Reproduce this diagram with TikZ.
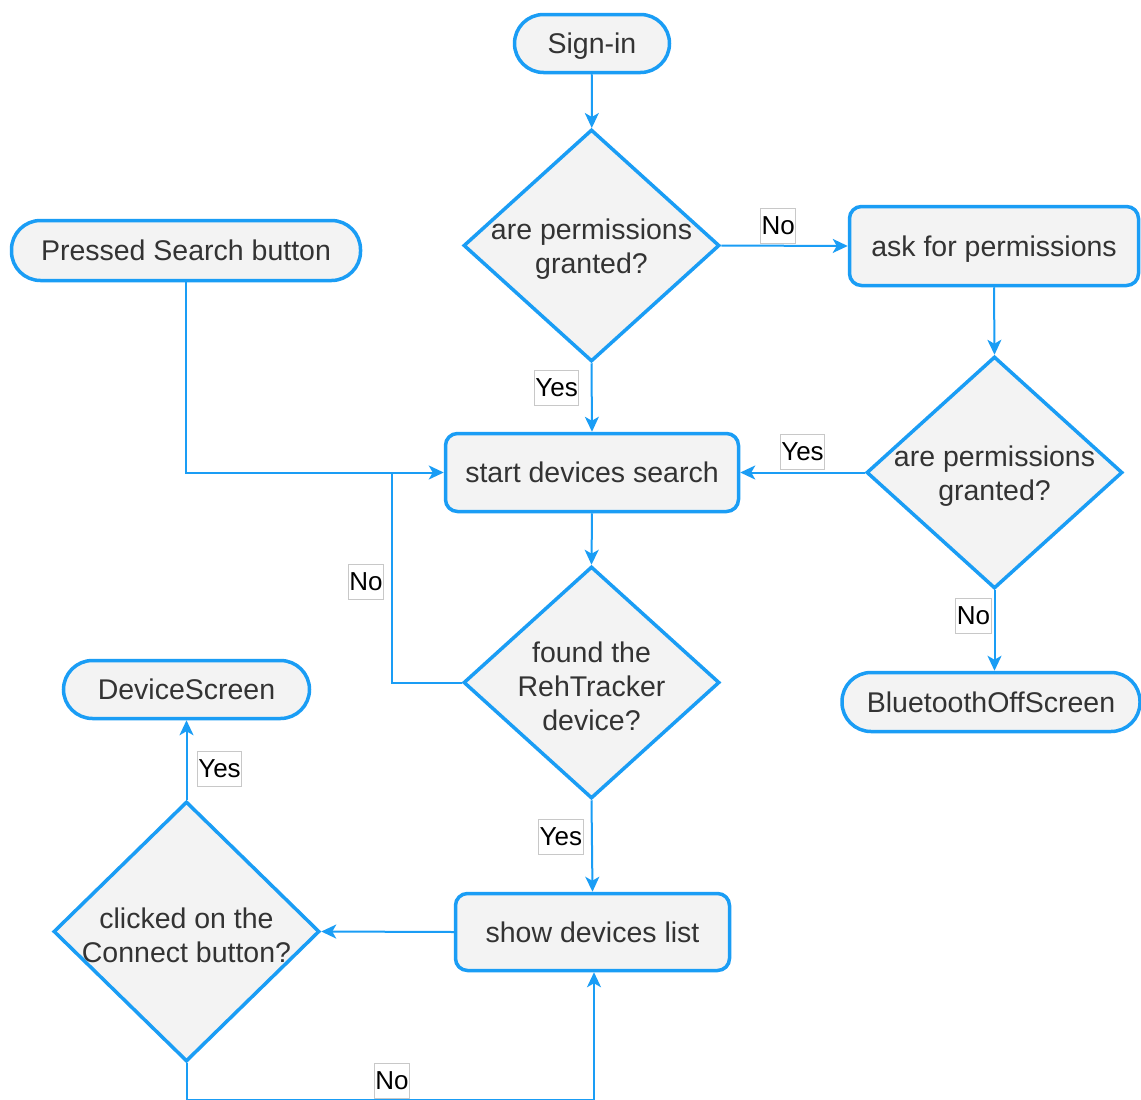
\documentclass[tikz,border=0pt]{standalone}
\usepackage{fontspec}
\setmainfont{Liberation Sans}
\usetikzlibrary{shapes.geometric,arrows.meta}
\definecolor{flowblue}{RGB}{26,157,245}
\definecolor{boxfill}{RGB}{243,243,243}
\definecolor{ink}{RGB}{51,51,51}
\definecolor{lblframe}{RGB}{200,200,200}

\begin{document}
\begin{tikzpicture}[x=1pt,y=-1pt,
  base/.style={draw=flowblue, line width=3.5pt, fill=boxfill, text=ink,
    font=\fontsize{28.5}{34}\selectfont, align=center, inner sep=0pt,
    text height=22pt, text depth=1.5pt},
  term/.style={base, rounded corners=29pt},
  proc/.style={base, rounded corners=12pt},
  dec/.style={base, diamond, minimum width=256pt, minimum height=232pt},
  dtext/.style={text=ink, font=\fontsize{28.5}{34}\selectfont, align=center, inner sep=0pt, yshift=-4pt},
  link/.style={draw=flowblue, line width=2pt, -{Stealth[length=15pt,width=14pt,inset=4pt]}},
  plain/.style={draw=flowblue, line width=2pt},
  lbl/.style={draw=lblframe, line width=0.8pt, fill=white, text=black,
    font=\fontsize{26}{30}\selectfont, inner xsep=1pt, inner ysep=1pt,
    text height=25pt, text depth=8pt}
]
\useasboundingbox[fill=white] (0,0) rectangle (1141,1100);

% terminals
\node[term, minimum width=155pt, minimum height=58pt] (signin) at (592,43.5) {Sign-in};
\node[term, minimum width=349pt, minimum height=60pt] (press) at (186,250.5) {Pressed Search button};
\node[term, minimum width=246pt, minimum height=58pt] (devscr) at (186.5,689.5) {DeviceScreen};
\node[term, minimum width=298pt, minimum height=59pt] (btoff) at (991,702) {BluetoothOffScreen};

% process boxes
\node[proc, minimum width=289pt, minimum height=79pt] (ask) at (994,246) {ask for permissions};
\node[proc, minimum width=293pt, minimum height=78pt] (start) at (592,472.5) {start devices search};
\node[proc, minimum width=274pt, minimum height=77pt] (show) at (592.5,932) {show devices list};

% decisions
\node[dec] (d1) at (591.5,245.5) {};
\node[dtext] (d1t) at (d1) {are permissions\\granted?};
\node[dec] (d2) at (994.5,472.5) {};
\node[dtext] (d2t) at (d2) {are permissions\\granted?};
\node[dec] (d3) at (591.5,682.5) {};
\node[dtext] (d3t) at (d3) {found the\\RehTracker\\device?};
\node[dec, minimum width=266pt, minimum height=260pt] (d4) at (186.5,931.5) {};
\node[dtext] (d4t) at (d4) {clicked on the\\Connect button?};

% helper points
\coordinate (join) at (392,472.5);
\coordinate (loop) at (594,1100);

% connectors
\draw[link] (signin) -- (d1);
\draw[link] (d1.east) -- node[lbl, pos=.45, yshift=20pt] (l1) {No} (ask.west);
\draw[link] (d1.south) -- node[lbl, pos=.36, xshift=-35pt] (l2) {Yes} (start.north);
\draw[link] (ask.south) -- (d2.north);
\draw[link] (d2.west) -- node[lbl, pos=.5, yshift=21pt] (l3) {Yes} (start.east);
\draw[link] (d2.south) -- node[lbl, pos=.32, xshift=-21pt] (l4) {No} (d2.south |- btoff.north);
\draw[link] (press.south) |- (start.west);
\draw[plain] (d3.west) -| node[lbl, pos=.74, xshift=-26pt] (l5) {No} (join);
\draw[link] (start.south) -- (d3.north);
\draw[link] (d3.south) -- node[lbl, pos=.4, xshift=-31pt] (l6) {Yes} (show.north);
\draw[link] (show.west) -- (d4.east);
\draw[link] (d4.north) -- node[lbl, pos=.39, xshift=33pt] (l7) {Yes} (devscr.south);
\draw[link] (d4.south) |- node[lbl, pos=.752, yshift=19pt] (l8) {No} (loop) -- (loop |- show.south);
\end{tikzpicture}
\end{document}
